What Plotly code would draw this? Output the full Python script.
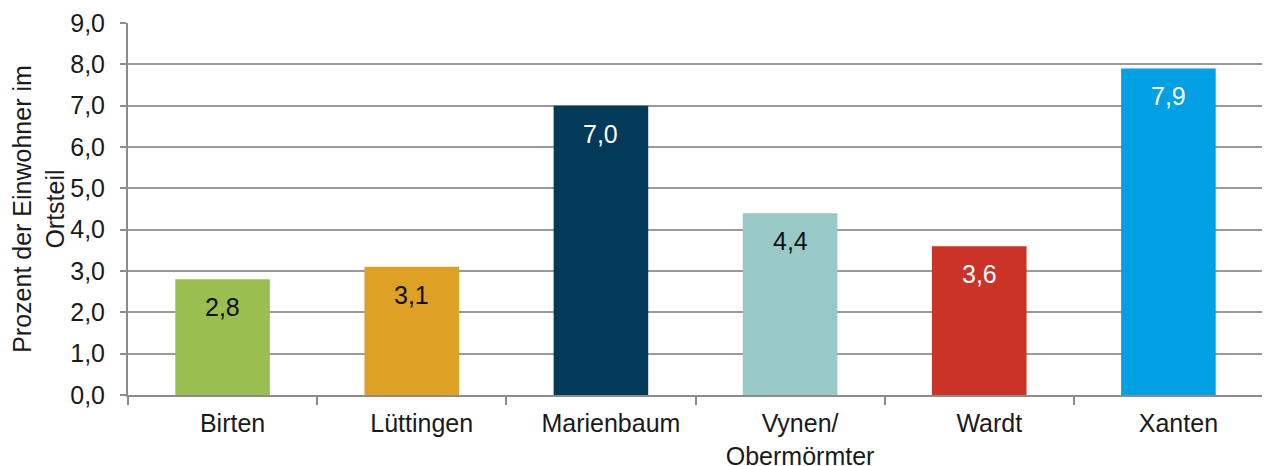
import plotly.graph_objects as go

categories = ["Birten", "Lüttingen", "Marienbaum", "Vynen/<br>Obermörmter", "Wardt", "Xanten"]
values = [2.8, 3.1, 7.0, 4.4, 3.6, 7.9]
bar_colors = ["#9BBE50", "#DEA125", "#033A59", "#98C9C7", "#CA3325", "#019FE3"]
label_colors = ["#111111", "#111111", "#FFFFFF", "#111111", "#FFFFFF", "#FFFFFF"]
y_title = "Prozent der Einwohner im<br>Ortsteil"

FONT = "Liberation Sans"
FS = 25

fig = go.Figure()
fig.add_trace(go.Bar(
    x=categories, y=values,
    marker=dict(color=bar_colors, line=dict(width=0)),
    width=0.5,
    hoverinfo="skip",
))

for c, v, col in zip(categories, values, label_colors):
    fig.add_annotation(
        x=c, y=v, xref="x", yref="y",
        text=f"{v:.1f}".replace(".", ","),
        showarrow=False, yanchor="middle", yshift=-28,
        font=dict(family=FONT, size=FS, color=col),
    )

fig.update_layout(
    width=1262, height=458,
    margin=dict(l=120, r=7, t=15, b=71),
    plot_bgcolor="white", paper_bgcolor="white",
    separators=",.",
    showlegend=False,
    font=dict(family=FONT, size=FS, color="#1a1a1a"),
    bargap=0.5,
)
fig.update_xaxes(
    type="category",
    showline=True, linecolor="#8C8C8C", linewidth=2,
    ticks="outside", tickson="boundaries", ticklen=8, tickcolor="#8C8C8C", tickwidth=2,
    showgrid=False,
    tickfont=dict(family=FONT, size=FS, color="#1a1a1a"),
    ticklabelstandoff=5,
    ticklabelshift=10,
    automargin=False,
)
fig.update_yaxes(
    range=[0, 9], dtick=1, tickformat=".1f",
    showline=True, linecolor="#8C8C8C", linewidth=2,
    ticks="outside", ticklen=6, tickcolor="#8C8C8C", tickwidth=2,
    showgrid=True, gridcolor="#9A9A9A", gridwidth=1.5,
    zeroline=False,
    tickfont=dict(family=FONT, size=FS, color="#1a1a1a"),
    ticklabelstandoff=10,
    title=dict(text=y_title, font=dict(family=FONT, size=FS, color="#1a1a1a"), standoff=12),
    automargin=False,
)

fig.write_html("out.html")
